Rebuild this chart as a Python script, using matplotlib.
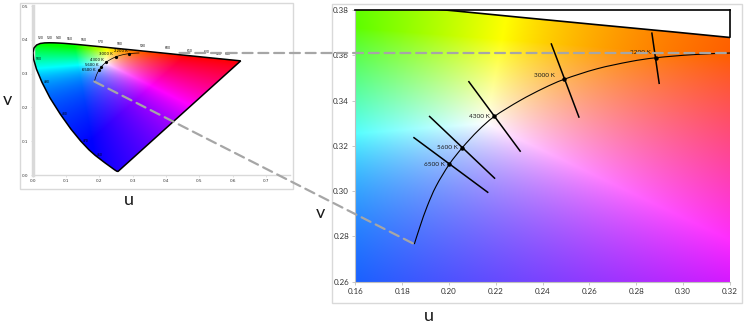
import numpy as np
import matplotlib
matplotlib.use("Agg")
import matplotlib.pyplot as plt
from matplotlib.patches import Polygon, Rectangle, ConnectionPatch, PathPatch
from matplotlib.path import Path

plt.rcParams['font.family'] = ['Lato', 'DejaVu Sans']

# ---------------- data ----------------
# Spectral locus in CIE 1960 UCS (u, v)
wavelengths = [380, 400, 420, 430, 440, 450, 460, 465, 470, 475, 480, 485, 490, 495,
               500, 505, 510, 515, 520, 525, 530, 535, 540, 545, 550, 555, 560, 565,
               570, 575, 580, 585, 590, 595, 600, 605, 610, 620, 630, 640, 650, 700]
locus_u = [0.2568, 0.2557, 0.2522, 0.2461, 0.2347, 0.2161, 0.1877, 0.1690, 0.1441, 0.1147,
           0.0828, 0.0521, 0.0282, 0.0119, 0.0035, 0.0014, 0.0046, 0.0123, 0.0231, 0.0360,
           0.0501, 0.0643, 0.0792, 0.0953, 0.1127, 0.1319, 0.1531, 0.1766, 0.2026, 0.2312,
           0.2623, 0.2960, 0.3315, 0.3681, 0.4035, 0.4379, 0.4692, 0.5203, 0.5565, 0.5830,
           0.6005, 0.6234]
locus_v = [0.0111, 0.0106, 0.0113, 0.0151, 0.0233, 0.0366, 0.0581, 0.0746, 0.1007, 0.1362,
           0.1806, 0.2285, 0.2745, 0.3132, 0.3420, 0.3621, 0.3759, 0.3846, 0.3891, 0.3908,
           0.3912, 0.3910, 0.3904, 0.3894, 0.3880, 0.3864, 0.3844, 0.3821, 0.3796, 0.3767,
           0.3736, 0.3703, 0.3667, 0.3631, 0.3596, 0.3561, 0.3530, 0.3479, 0.3443, 0.3417,
           0.3400, 0.3377]
wl_labels = [460, 470, 480, 490, 500, 520, 530, 540, 550, 560, 570, 580, 590, 600,
             610, 620, 630, 640]

# Planckian locus
pl_u = [0.1852, 0.1877, 0.1907, 0.1945, 0.2001, 0.2057, 0.2125, 0.2194, 0.2303, 0.2403,
        0.2492, 0.2631, 0.2773, 0.2883, 0.3043, 0.3200]
pl_v = [0.2766, 0.2846, 0.2933, 0.3022, 0.3118, 0.3192, 0.3268, 0.3330, 0.3400, 0.3454,
        0.3494, 0.3540, 0.3572, 0.3589, 0.3603, 0.3610]

# CCT points and isotemperature lines
cct_labels = ["6500 K", "5600 K", "4300 K", "3000 K", "2200 K"]
cct_u = [0.2001, 0.2057, 0.2194, 0.2492, 0.2883]
cct_v = [0.3118, 0.3192, 0.3330, 0.3494, 0.3589]
iso_u1 = [0.1848, 0.1915, 0.2083, 0.2436, 0.2866]
iso_v1 = [0.3238, 0.3332, 0.3486, 0.3653, 0.3701]
iso_u2 = [0.2168, 0.2197, 0.2306, 0.2556, 0.2898]
iso_v2 = [0.2993, 0.3055, 0.3174, 0.3324, 0.3473]

# axis ticks
left_xticks = [0.0, 0.1, 0.2, 0.3, 0.4, 0.5, 0.6, 0.7]
left_yticks = [0.0, 0.1, 0.2, 0.3, 0.4, 0.5]
right_xticks = [0.16, 0.18, 0.20, 0.22, 0.24, 0.26, 0.28, 0.30, 0.32]
right_yticks = [0.26, 0.28, 0.30, 0.32, 0.34, 0.36, 0.38]
zoom_u_start_left = 0.44   # where the horizontal connector starts in the overview

# colour rendering settings (not data)
WHITE_UV = (0.216, 0.330)
SAT_EXP = 0.8


# ---------------- helpers ----------------
def uv_to_linrgb(uu, vv):
    d = 2 * uu - 8 * vv + 4
    x = 3 * uu / d
    y = np.maximum(2 * vv / d, 1e-4)
    X = x / y
    Y = np.ones_like(x)
    Z = (1 - x - y) / y
    M = np.array([[3.2406, -1.5372, -0.4986],
                  [-0.9689, 1.8758, 0.0415],
                  [0.0557, -0.2040, 1.0570]])
    return np.einsum('ij,j...->...i', M, np.stack([X, Y, Z]))


def chroma_image(u0, u1, v0, v1, nu, nv):
    uu, vv = np.meshgrid(np.linspace(u0, u1, nu), np.linspace(v0, v1, nv))
    rgb = uv_to_linrgb(uu, vv)
    w = uv_to_linrgb(np.array(WHITE_UV[0]), np.array(WHITE_UV[1]))
    rgb = np.clip(rgb / w, 0, None)
    rgb = rgb / (rgb.max(axis=-1, keepdims=True) + 1e-9)
    rgb = rgb ** SAT_EXP
    return np.clip(rgb, 0, 1)


def draw_fill(ax, u0, u1, v0, v1, nu, nv):
    img = chroma_image(u0, u1, v0, v1, nu, nv)
    im = ax.imshow(img, origin='lower', extent=[u0, u1, v0, v1], aspect='auto',
                   interpolation='bilinear', zorder=1)
    poly = Polygon(np.column_stack([locus_u, locus_v]), closed=True,
                   transform=ax.transData)
    im.set_clip_path(poly)


def smooth_curve(ax, xs, ys, **kw):
    p = np.column_stack([xs, ys])
    n = len(p)
    verts = [p[0]]
    codes = [Path.MOVETO]
    for i in range(n - 1):
        p0 = p[max(i - 1, 0)]
        p1 = p[i]
        p2 = p[i + 1]
        p3 = p[min(i + 2, n - 1)]
        verts += [p1 + (p2 - p0) / 6, p2 - (p3 - p1) / 6, p2]
        codes += [Path.CURVE4] * 3
    ax.add_patch(PathPatch(Path(verts, codes), fill=False, **kw))


W, H = 750, 327
fig = plt.figure(figsize=(W / 100, H / 100), dpi=100)


def fx(px):
    return px / W


def fy(py):
    return 1 - py / H


# chart-area frames
fig.add_artist(Rectangle((fx(20), fy(189)), fx(293) - fx(20), fy(3) - fy(189),
                         transform=fig.transFigure, fill=False, ec='#d9d9d9', lw=1, zorder=0))
fig.add_artist(Rectangle((fx(332), fy(303)), fx(742) - fx(332), fy(4) - fy(303),
                         transform=fig.transFigure, fill=False, ec='#d9d9d9', lw=1, zorder=0))

tick_color = '#333333'
small_font = ['DejaVu Sans']

# ---------------- left overview ----------------
ax1 = fig.add_axes([fx(32.5), fy(175), fx(290) - fx(32.5), fy(6) - fy(175)])
ax1.set_xlim(0, 0.771)
ax1.set_ylim(0, 0.5)
draw_fill(ax1, 0.0, 0.65, 0.0, 0.40, 500, 320)
ax1.add_patch(Polygon(np.column_stack([locus_u, locus_v]), closed=True, fill=False,
                      ec='black', lw=1.1, zorder=3))
smooth_curve(ax1, pl_u, pl_v, ec='black', lw=0.5, zorder=4)
ax1.plot(cct_u, cct_v, 'o', color='black', ms=1.3, zorder=4)
left_label_offsets = [(-3, -0.3), (-2, 1.5), (-1.5, 2), (-2, 2.2), (-0.5, 1.8)]
for lab, u, v, off in zip(cct_labels, cct_u, cct_v, left_label_offsets):
    ax1.annotate(lab, (u, v), xytext=off, textcoords='offset points',
                 ha='right', va='center', fontsize=2.8, family=small_font,
                 color='black', zorder=5)
for wl in wl_labels:
    i = wavelengths.index(wl)
    if wl <= 500:
        ax1.annotate(str(wl), (locus_u[i], locus_v[i]), xytext=(1.5, 0),
                     textcoords='offset points', ha='left', va='center',
                     fontsize=2.2, family=small_font, color='black', zorder=5)
    else:
        ax1.annotate(str(wl), (locus_u[i], locus_v[i]), xytext=(0, 2.2),
                     textcoords='offset points', ha='center', va='bottom',
                     fontsize=2.2, family=small_font, color='black', zorder=5)
ax1.set_xticks(left_xticks)
ax1.set_xticklabels([f"{t:.1f}" for t in left_xticks], family=small_font)
ax1.set_yticks(left_yticks)
ax1.set_yticklabels([f"{t:.1f}" for t in left_yticks], family=small_font)
ax1.tick_params(labelsize=3, colors='#d9d9d9', labelcolor=tick_color, length=1.5,
                width=0.6, pad=1.5)
for s in ['top', 'right']:
    ax1.spines[s].set_visible(False)
ax1.spines['left'].set_color('#d9d9d9')
ax1.spines['left'].set_linewidth(2.5)
ax1.spines['bottom'].set_color('#d9d9d9')
ax1.spines['bottom'].set_linewidth(1)

# ---------------- right zoom ----------------
ax2 = fig.add_axes([fx(355.3), fy(281.7), fx(730) - fx(355.3), fy(10) - fy(281.7)])
ax2.set_xlim(0.16, 0.32)
ax2.set_ylim(0.26, 0.38)
draw_fill(ax2, 0.16, 0.32, 0.26, 0.38, 600, 450)
ax2.plot(locus_u, locus_v, color='black', lw=1.2, zorder=3)
smooth_curve(ax2, pl_u, pl_v, ec='black', lw=0.8, zorder=4)
for a, b, c, d in zip(iso_u1, iso_v1, iso_u2, iso_v2):
    ax2.plot([a, c], [b, d], color='black', lw=1.1, zorder=4, solid_capstyle='butt')
ax2.plot(cct_u, cct_v, 'o', color='black', ms=2.2, zorder=5)
label_offsets = [(-3, 0), (-3, 0), (-3, 0), (-7, 3), (-3.5, 3.5)]
for lab, u, v, off in zip(cct_labels, cct_u, cct_v, label_offsets):
    ax2.annotate(lab, (u, v), xytext=off, textcoords='offset points',
                 ha='right', va='center', fontsize=4.6, color='#1a1a1a', zorder=6)
ax2.set_xticks(right_xticks)
ax2.set_xticklabels([f"{t:.2f}" for t in right_xticks])
ax2.set_yticks(right_yticks)
ax2.set_yticklabels([f"{t:.2f}" for t in right_yticks])
ax2.tick_params(labelsize=5.8, colors='#bfbfbf', labelcolor=tick_color, length=2.5,
                width=0.6, pad=2)
ax2.spines['left'].set_color('#bfbfbf')
ax2.spines['bottom'].set_color('#bfbfbf')
ax2.spines['left'].set_linewidth(0.8)
ax2.spines['bottom'].set_linewidth(0.8)
ax2.spines['top'].set_color('black')
ax2.spines['top'].set_linewidth(1.2)
ax2.spines['top'].set_zorder(6)
v_edge = np.interp(0.32, locus_u[18:], locus_v[18:])
ax2.spines['right'].set_color('black')
ax2.spines['right'].set_linewidth(1.2)
ax2.spines['right'].set_bounds(v_edge, 0.38)
ax2.spines['right'].set_zorder(6)

# ---------------- connectors ----------------
dash = (0, (4.5, 2.6))
con1 = ConnectionPatch(xyA=(zoom_u_start_left, pl_v[-1]), coordsA=ax1.transData,
                       xyB=(pl_u[-1], pl_v[-1]), coordsB=ax2.transData,
                       color='#a6a6a6', lw=1.6, linestyle=dash, zorder=10)
con2 = ConnectionPatch(xyA=(pl_u[0], pl_v[0]), coordsA=ax1.transData,
                       xyB=(pl_u[0], pl_v[0]), coordsB=ax2.transData,
                       color='#a6a6a6', lw=1.6, linestyle=dash, zorder=10)
fig.add_artist(con1)
fig.add_artist(con2)

# axis titles
fig.text(fx(7), fy(100), 'v', ha='center', va='center', fontsize=13, color='#1a1a1a')
fig.text(fx(129), fy(200), 'u', ha='center', va='center', fontsize=13, color='#1a1a1a')
fig.text(fx(320), fy(213), 'v', ha='center', va='center', fontsize=13, color='#1a1a1a')
fig.text(fx(429), fy(316), 'u', ha='center', va='center', fontsize=13, color='#1a1a1a')

fig.savefig('out.png', dpi=100)
